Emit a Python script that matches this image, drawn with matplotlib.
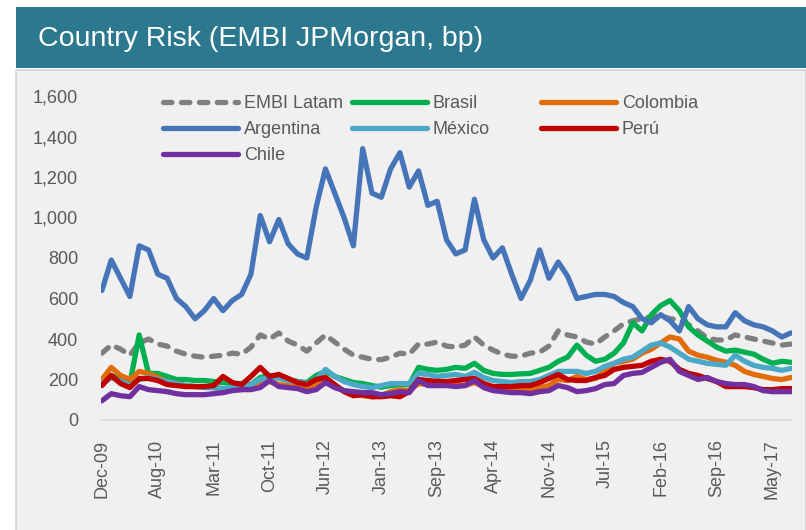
import matplotlib
matplotlib.use("Agg")
import matplotlib.pyplot as plt
from matplotlib.patches import Rectangle
from matplotlib.legend import Legend
from matplotlib.ticker import FuncFormatter
import numpy as np

plt.rcParams['font.family'] = ['Liberation Sans Narrow', 'Liberation Sans', 'DejaVu Sans']

# tick labels on the category axis (one every 6 points)
tick_labels = ["Dec-09", "Aug-10", "Mar-11", "Oct-11", "Jun-12", "Jan-13", "Sep-13",
               "Apr-14", "Nov-14", "Jul-15", "Feb-16", "Sep-16", "May-17"]
tick_every = 6

# spreads in bp (75 points, Dec-09 .. Jul-17)
embi_latam = [330, 370, 350, 320, 380, 400, 375, 365, 340, 325, 315, 310, 315, 320, 330,
              325, 360, 420, 400, 430, 390, 370, 340, 380, 420, 385, 350, 320, 310, 300,
              298, 310, 330, 325, 375, 375, 385, 365, 360, 370, 410, 370, 345, 325, 315,
              315, 330, 335, 365, 440, 420, 410, 385, 375, 410, 440, 475, 490, 500, 510,
              515, 500, 495, 470, 440, 405, 395, 395, 420, 410, 400, 390, 380, 370, 375]
argentina = [640, 790, 700, 610, 860, 840, 720, 700, 600, 560, 500, 540, 600, 540, 590,
             620, 720, 1010, 880, 990, 870, 820, 800, 1050, 1240, 1120, 1000, 860, 1340, 1120,
             1100, 1240, 1320, 1150, 1230, 1060, 1080, 890, 820, 840, 1090, 890, 800, 850, 720,
             600, 690, 840, 700, 780, 710, 600, 610, 620, 620, 610, 580, 560, 500, 480,
             520, 490, 440, 560, 500, 470, 460, 460, 530, 490, 470, 460, 440, 410, 430]
brasil = [190, 220, 200, 180, 420, 230, 230, 215, 200, 200, 195, 195, 190, 185, 180,
          180, 175, 210, 220, 215, 200, 190, 185, 220, 240, 215, 200, 185, 180, 170,
          162, 170, 175, 175, 260, 250, 245, 250, 260, 255, 280, 245, 230, 225, 225,
          228, 230, 245, 260, 290, 310, 370, 320, 290, 300, 330, 380, 480, 440, 520,
          565, 590, 540, 460, 420, 390, 360, 340, 345, 335, 325, 300, 280, 290, 285]
colombia = [200, 260, 220, 200, 240, 230, 210, 190, 180, 170, 165, 165, 160, 155, 150,
            150, 155, 185, 190, 175, 170, 165, 160, 175, 195, 165, 145, 130, 120, 115,
            120, 140, 150, 145, 180, 175, 170, 175, 175, 170, 185, 165, 150, 145, 140,
            150, 150, 160, 170, 200, 195, 215, 200, 205, 240, 280, 290, 300, 330, 350,
            380, 410, 400, 340, 320, 310, 295, 285, 270, 240, 225, 215, 205, 200, 210]
mexico = [180, 210, 190, 170, 200, 210, 200, 190, 180, 170, 165, 160, 160, 155, 160,
          165, 175, 200, 210, 205, 195, 190, 180, 200, 250, 215, 190, 175, 165, 160,
          170, 180, 180, 180, 230, 225, 215, 220, 225, 215, 235, 210, 195, 190, 185,
          190, 190, 200, 220, 240, 240, 240, 230, 240, 265, 280, 300, 310, 340, 370,
          380, 360, 330, 300, 290, 280, 275, 270, 320, 290, 270, 260, 255, 245, 255]
peru = [170, 220, 180, 160, 205, 205, 195, 175, 170, 165, 165, 165, 170, 215, 185,
        175, 215, 260, 215, 225, 205, 185, 175, 200, 210, 175, 140, 120, 125, 115,
        115, 120, 115, 140, 200, 195, 190, 190, 195, 200, 205, 180, 165, 165, 165,
        170, 170, 185, 205, 225, 200, 195, 195, 210, 220, 250, 260, 265, 270, 290,
        300, 290, 250, 230, 220, 205, 190, 165, 165, 165, 160, 150, 150, 155, 155]
chile = [95, 130, 120, 115, 165, 150, 145, 140, 130, 125, 125, 125, 130, 135, 145,
         150, 150, 160, 195, 165, 160, 155, 140, 150, 185, 160, 145, 140, 135, 135,
         125, 130, 140, 135, 195, 170, 170, 170, 165, 170, 195, 160, 145, 140, 135,
         135, 130, 140, 145, 170, 160, 140, 145, 155, 175, 180, 220, 230, 235, 260,
         285, 300, 240, 220, 200, 210, 190, 180, 175, 175, 165, 145, 140, 140, 140]

W, H = 806, 530
fig = plt.figure(figsize=(W / 100, H / 100), dpi=100)
fig.patch.set_facecolor("white")

# header band and grey panel (behind the axes)
fig.patches.append(Rectangle((16 / W, 1 - 68 / H), 790 / W, 61 / H, transform=fig.transFigure,
                             facecolor="#2C788E", edgecolor="none", zorder=-5))
fig.patches.append(Rectangle((16 / W, -0.01), 790 / W, (530 - 70) / H + 0.01, transform=fig.transFigure,
                             facecolor="#F0F0F0", edgecolor="#D2D2D2", linewidth=1.2, zorder=-5))
fig.text(38 / W, 1 - 39 / H, "Country Risk (EMBI JPMorgan, bp)", color="white",
         fontsize=20.5, va="center", ha="left")

ax = fig.add_axes([101 / W, (H - 420) / H, 691 / W, 324 / H])
ax.set_facecolor("none")
ax.set_zorder(2)

x = np.arange(len(argentina))
lw = 3.8
series = [
    ("EMBI Latam", embi_latam, "#7F7F7F"),
    ("Argentina", argentina, "#4674B8"),
    ("Chile", chile, "#7030A0"),
    ("Brasil", brasil, "#00B050"),
    ("México", mexico, "#4BA8C6"),
    ("Colombia", colombia, "#E36C0A"),
    ("Perú", peru, "#C00000"),
]
# drawing order: later ones on top
draw_order = ["EMBI Latam", "Brasil", "Colombia", "México", "Argentina", "Perú", "Chile"]
handles = {}
for name in draw_order:
    label, vals, col = next(s for s in series if s[0] == name)
    if name == "EMBI Latam":
        ln, = ax.plot(x, vals, color=col, lw=lw, linestyle=(0, (1.6, 1.8)),
                      dash_capstyle="round", solid_capstyle="round", label=label)
    else:
        ln, = ax.plot(x, vals, color=col, lw=lw, solid_capstyle="round",
                      solid_joinstyle="round", label=label)
    handles[name] = ln

ax.set_xlim(-0.1, len(argentina) - 0.9)
ax.set_ylim(0, 1600)
ax.set_yticks(np.arange(0, 1601, 200))
ax.yaxis.set_major_formatter(FuncFormatter(lambda v, p: f"{int(v):,}"))
ax.set_xticks(np.arange(len(tick_labels)) * tick_every)
ax.set_xticklabels(tick_labels, rotation=90)

for side in ["top", "right", "left"]:
    ax.spines[side].set_visible(False)
ax.spines["bottom"].set_color("#D9D9D9")
ax.spines["bottom"].set_linewidth(1.2)
ax.tick_params(axis="both", length=0, labelsize=13, colors="#595959")
ax.tick_params(axis="y", pad=16.5)
ax.tick_params(axis="x", pad=14)

# legend: three columns placed like the original
cols = [(["EMBI Latam", "Argentina", "Chile"], 163),
        (["Brasil", "México"], 352),
        (["Colombia", "Perú"], 541)]
for names, xpix in cols:
    leg = Legend(ax, [handles[n] for n in names], names, loc="upper left",
                 bbox_to_anchor=(xpix / W, 1 - 95 / H), bbox_transform=fig.transFigure,
                 frameon=False, fontsize=13, handlelength=4.15, handletextpad=0.33,
                 labelspacing=0.5, borderpad=0, borderaxespad=0, labelcolor="#595959")
    ax.add_artist(leg)

fig.savefig("out.png", dpi=100)
